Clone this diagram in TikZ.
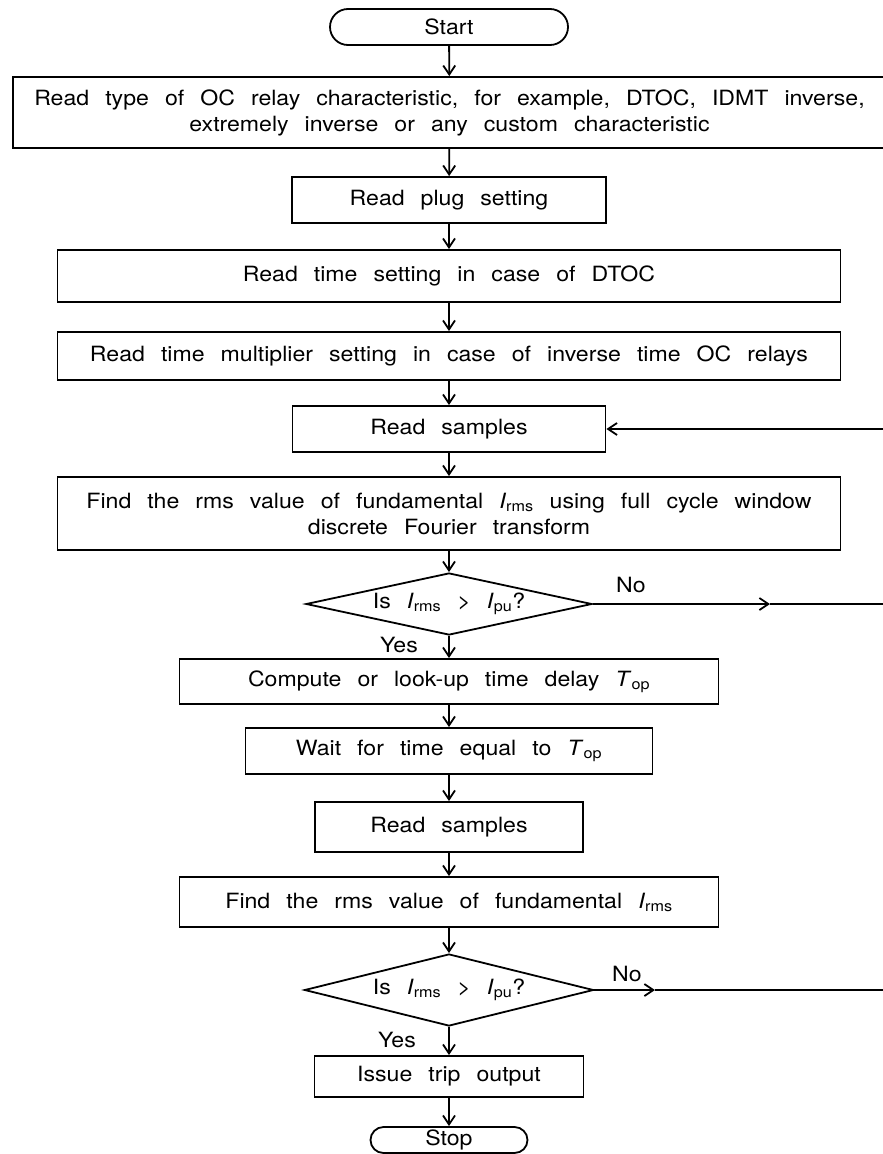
\documentclass[tikz,border=0pt]{standalone}
\usepackage{fontspec}
\setmainfont[FakeStretch=1.1,WordSpace=2.5]{TeX Gyre Heros}
\usetikzlibrary{positioning,arrows.meta,shapes.geometric}
\newcommand{\Irms}{\textit{I}\textsubscript{rms}}
\newcommand{\Ipu}{\textit{I}\textsubscript{pu}}
\newcommand{\Tdel}{\textit{T}\textsubscript{op}}

\begin{document}
\begin{tikzpicture}[x=1pt,y=-1pt,line width=1.8pt,
      font=\fontsize{21}{26}\selectfont,
      b/.style={rectangle,draw,align=center,inner sep=2pt},
      term/.style={rectangle,draw,inner sep=2pt},
      dec/.style={diamond,draw,aspect=4.6,inner sep=0pt,minimum width=286pt,minimum height=62pt},
      ar/.style={-{Straight Barb[length=9pt,width=12pt]}},
      lbl/.style={inner sep=0pt}]
    \useasboundingbox (0,0) rectangle (883,1154);
    \node[term,minimum width=238pt,minimum height=36pt,rounded corners=18pt](start) at (449,27){Start};
    \node[b,minimum width=873pt,minimum height=71pt](type) at (449.5,112.5){Read type of OC relay characteristic, for example, DTOC, IDMT inverse,\\extremely inverse or any custom characteristic};
    \node[b,minimum width=314pt,minimum height=46pt](plug) at (449,200){Read plug setting};
    \node[b,minimum width=783pt,minimum height=52pt](tset) at (449,276){Read time setting in case of DTOC};
    \node[b,minimum width=783pt,minimum height=48pt](tms) at (449,356){Read time multiplier setting in case of inverse time OC relays};
    \node[b,minimum width=313pt,minimum height=46pt](samp1) at (449,429){Read samples};
    \node[b,minimum width=783pt,minimum height=73pt](rms1) at (449,513.5){Find the rms value of fundamental \Irms{} using full cycle window\\discrete Fourier transform};
    \node[dec](chk1) at (449,604){Is \Irms{} > \Ipu?};
    \node[b,minimum width=539pt,minimum height=45pt](tcalc) at (449,681.5){Compute or look-up time delay \Tdel};
    \node[b,minimum width=407pt,minimum height=46pt](wait) at (449,751){Wait for time equal to \Tdel};
    \node[b,minimum width=268pt,minimum height=50pt](samp2) at (449,827){Read samples};
    \node[b,minimum width=539pt,minimum height=50pt](rms2) at (449,902){Find the rms value of fundamental \Irms};
    \node[dec,aspect=4,minimum height=72pt,minimum width=289pt](chk2) at (449,990){Is \Irms{} > \Ipu?};
    \node[b,minimum width=269pt,minimum height=41pt](trip) at (449,1076.5){Issue trip output};
    \node[term,minimum width=157pt,minimum height=26pt,rounded corners=13pt](stop) at (449,1140){Stop};
    % labels on the branches
    \node[lbl](no1) at (631,585){No};
    \node[lbl](yes1) at (399,645){Yes};
    \node[lbl](no2) at (627,974){No};
    \node[lbl](yes2) at (397,1040){Yes};
    % ends at the right margin
    \coordinate (back) at (883,429);
    \coordinate (n1) at (770,604);
    \coordinate (e1) at (883,604);
    \coordinate (n2) at (655,990);
    \coordinate (e2) at (883,990);
    \draw[ar](start)--(type);
    \draw[ar](type)--(plug);
    \draw[ar](plug)--(tset);
    \draw[ar](tset)--(tms);
    \draw[ar](tms)--(samp1);
    \draw[ar](samp1)--(rms1);
    \draw[ar](rms1)--(chk1);
    \draw[ar](chk1)--(tcalc);
    \draw[ar](tcalc)--(wait);
    \draw[ar](wait)--(samp2);
    \draw[ar](samp2)--(rms2);
    \draw[ar](rms2)--(chk2);
    \draw[ar](chk2)--(trip);
    \draw[ar](trip)--(stop);
    \draw[ar](chk1.east)--(n1);
    \draw(n1)--(e1);
    \draw[ar](chk2.east)--(n2);
    \draw(n2)--(e2);
    \draw[ar](back)--(samp1.east);
\end{tikzpicture}
\end{document}
